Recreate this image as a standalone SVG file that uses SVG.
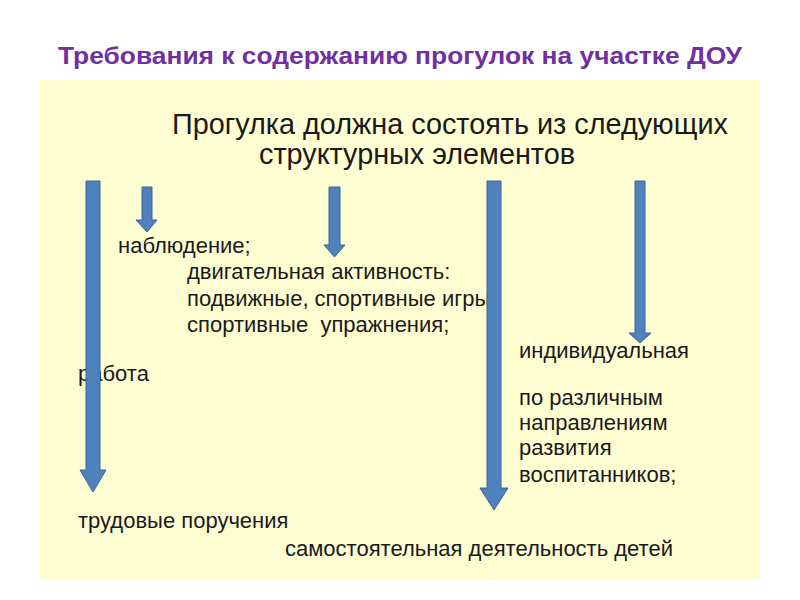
<svg xmlns="http://www.w3.org/2000/svg" width="800" height="600" viewBox="0 0 800 600">
<style>
.t{font-family:"Liberation Sans",Arial,sans-serif;font-size:22px;fill:#1a1a1a}
.h{font-family:"Liberation Sans",Arial,sans-serif;font-size:28.8px;fill:#1a1a1a}
.ttl{font-family:"Liberation Sans",Arial,sans-serif;font-size:24px;font-weight:bold;fill:#7030A0}
.ar{fill:#4F81BD;stroke:#3A6699;stroke-width:1}
</style>
<rect width="800" height="600" fill="#ffffff"/>
<text class="ttl" x="400" y="64" text-anchor="middle" textLength="684" lengthAdjust="spacingAndGlyphs">Требования к содержанию прогулок на участке ДОУ</text>
<rect x="40" y="80" width="720" height="500" fill="#FFFDD2"/>
<g id="heading">
<text class="h" x="172" y="134">Прогулка должна состоять из следующих</text>
<text class="h" x="259" y="164">структурных элементов</text>
</g>
<g id="n1"><text class="t" x="118" y="253">наблюдение;</text></g>
<g id="n2">
<text class="t" x="187" y="279">двигательная активность:</text>
<text class="t" x="187" y="306">подвижные, спортивные игры</text>
<text class="t" x="187" y="332">спортивные&#160; упражнения;</text>
</g>
<g id="n3">
<text class="t" x="519" y="358">индивидуальная</text>
<text class="t" x="78" y="381">работа</text>
<text class="t" x="519" y="405">по различным</text>
<text class="t" x="519" y="430">направлениям</text>
<text class="t" x="519" y="455">развития</text>
<text class="t" x="519" y="482">воспитанников;</text>
</g>
<g id="n4"><text class="t" x="78" y="528">трудовые поручения</text></g>
<g id="n5"><text class="t" x="285" y="556">самостоятельная деятельность детей</text></g>
<g id="connectors">
<path class="ar" d="M86,181 H100 V470 H106 L93,492 L80,470 H86 Z"/>
<path class="ar" d="M142,187 H152 V220 H157 L147,232 L136,220 H142 Z"/>
<path class="ar" d="M329,187 H340 V245 H345 L334.5,257 L324,245 H329 Z"/>
<path class="ar" d="M487,181 H501 V488 H508 L494,510 L480,488 H487 Z"/>
<path class="ar" d="M635,181 H645 V333 H651 L640,343 L629,333 H635 Z"/>
</g>
</svg>
